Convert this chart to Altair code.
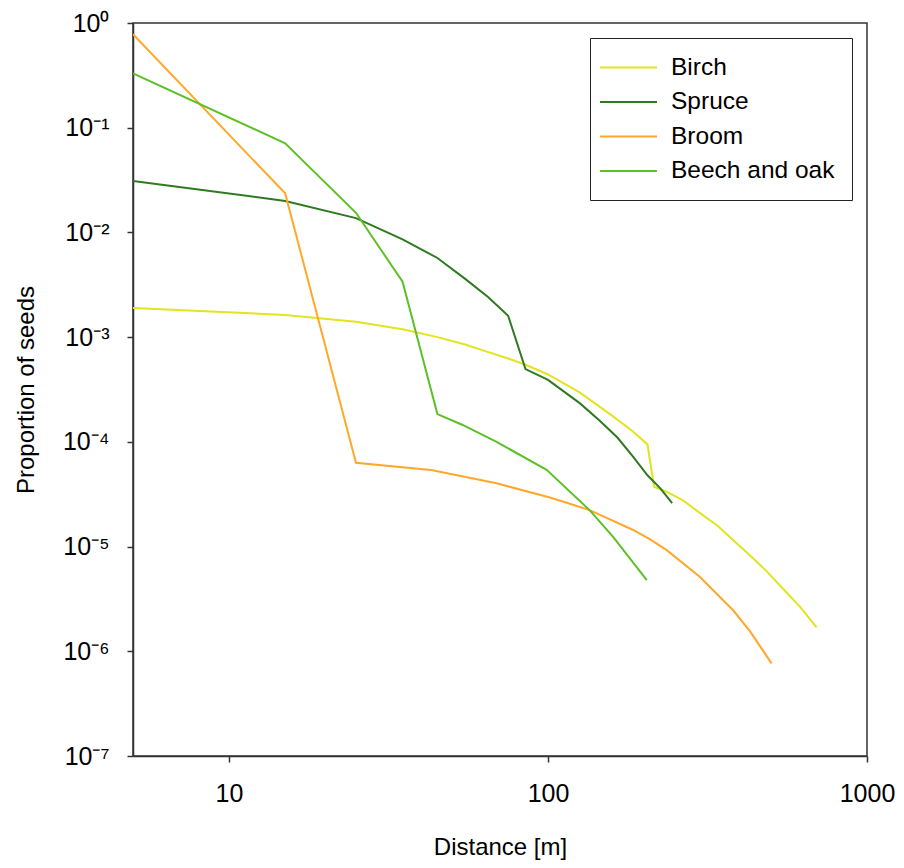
import altair as alt
import pandas as pd
import math

SERIES = ["Birch", "Spruce", "Broom", "Beech and oak"]
COLORS = ["#E2E41E", "#2E7A20", "#FFA829", "#5CC026"]

BIRCH_X = [5, 15, 25, 35, 45, 55, 65, 75, 85, 100, 126, 160, 185, 205,
           215, 235, 265, 299, 340, 381, 430, 485, 550, 617, 695]
BIRCH_Y = [1.9e-3, 1.63e-3, 1.40e-3, 1.19e-3, 1.0e-3, 8.5e-4, 7.2e-4, 6.25e-4, 5.45e-4, 4.4e-4,
           2.95e-4, 1.75e-4, 1.25e-4, 9.46e-5,
           3.73e-5, 3.34e-5, 2.76e-5, 2.1e-5, 1.58e-5, 1.15e-5, 8.2e-6, 5.8e-6, 3.85e-6, 2.66e-6, 1.69e-6]

SPRUCE_X = [5, 15, 25, 35, 45, 55, 65, 75, 85, 100, 126, 145, 165, 185, 205, 225, 245]
SPRUCE_Y = [0.031, 0.020, 0.0137, 0.0086, 0.0057, 0.0036, 0.0024, 0.0016, 4.96e-4, 3.9e-4,
            2.33e-4, 1.6e-4, 1.1e-4, 7.2e-5, 4.8e-5, 3.6e-5, 2.6e-5]

BROOM_X = [5, 15, 25, 43, 69, 100, 112, 135, 185, 209, 235, 299, 381, 430, 502]
BROOM_Y = [0.78, 0.0236, 6.3e-5, 5.38e-5, 4.02e-5, 2.97e-5, 2.68e-5, 2.23e-5, 1.44e-5, 1.17e-5,
           9.3e-6, 5.15e-6, 2.45e-6, 1.55e-6, 7.66e-7]

BEECH_X = [5, 15, 25, 35, 45, 54, 69, 99, 135, 160, 204]
BEECH_Y = [0.33, 0.071, 0.0154, 3.38e-3, 1.84e-4, 1.45e-4, 1.0e-4, 5.4e-5, 2.23e-5, 1.24e-5, 4.79e-6]

X_TICKS = [10, 100, 1000]
Y_TICKS = [1e-7, 1e-6, 1e-5, 1e-4, 1e-3, 1e-2, 1e-1, 1]
Y_TICK_LABELS = ["10⁻⁷", "10⁻⁶", "10⁻⁵", "10⁻⁴", "10⁻³", "10⁻²", "10⁻¹", "10⁰"]

rows = []
for name, xs, ys in [("Birch", BIRCH_X, BIRCH_Y), ("Spruce", SPRUCE_X, SPRUCE_Y),
                     ("Broom", BROOM_X, BROOM_Y), ("Beech and oak", BEECH_X, BEECH_Y)]:
    for x, y in zip(xs, ys):
        rows.append({"species": name, "distance": x, "proportion": y})
df = pd.DataFrame(rows)

expr = "''"
for v, lab in zip(Y_TICKS, Y_TICK_LABELS):
    expr = f"(abs(log(datum.value)/LN10 - ({math.log10(v)})) < 0.01 ? '{lab}' : {expr})"

FONT = "Liberation Sans"

chart = alt.Chart(df).mark_line(strokeWidth=2, clip=True).encode(
    x=alt.X("distance:Q",
            scale=alt.Scale(type="log", domain=[5, 1000], nice=False),
            axis=alt.Axis(values=X_TICKS, format="d", title="Distance [m]",
                          labelPadding=19, titlePadding=29, labelFlush=False,
                          labelOverlap=False, labelBound=False)),
    y=alt.Y("proportion:Q",
            scale=alt.Scale(type="log", domain=[1e-7, 1], nice=False),
            axis=alt.Axis(values=Y_TICKS, labelExpr=expr, title="Proportion of seeds",
                          labelPadding=18, titlePadding=24, labelFlush=False,
                          labelOverlap=False)),
    color=alt.Color("species:N",
                    scale=alt.Scale(domain=SERIES, range=COLORS),
                    legend=alt.Legend(title=None, orient="top-right", offset=15,
                                      padding=17, symbolType="M-2.48,0H2.48", symbolSize=529,
                                      symbolStrokeWidth=2, symbolOffset=9,
                                      labelFontSize=24.5, labelFont=FONT, labelColor="black",
                                      labelOffset=30, rowPadding=9.5, labelLimit=400,
                                      strokeColor="#222", fillColor="white")),
    order=alt.Order("distance:Q"),
).properties(
    width=734, height=733, autosize="none",
    padding={"left": 125, "top": 15, "right": 29, "bottom": 104},
).configure_view(
    stroke="#333", strokeWidth=1.5
).configure_axis(
    grid=False, domainColor="#333", domainWidth=1.5, tickColor="#333", tickWidth=1.5,
    tickSize=6, labelFont=FONT, labelFontSize=25, labelColor="black",
    titleFont=FONT, titleFontSize=24, titleFontWeight="normal", titleColor="black",
)

chart.save("out.html", embed_options={"renderer": "svg", "actions": False})
